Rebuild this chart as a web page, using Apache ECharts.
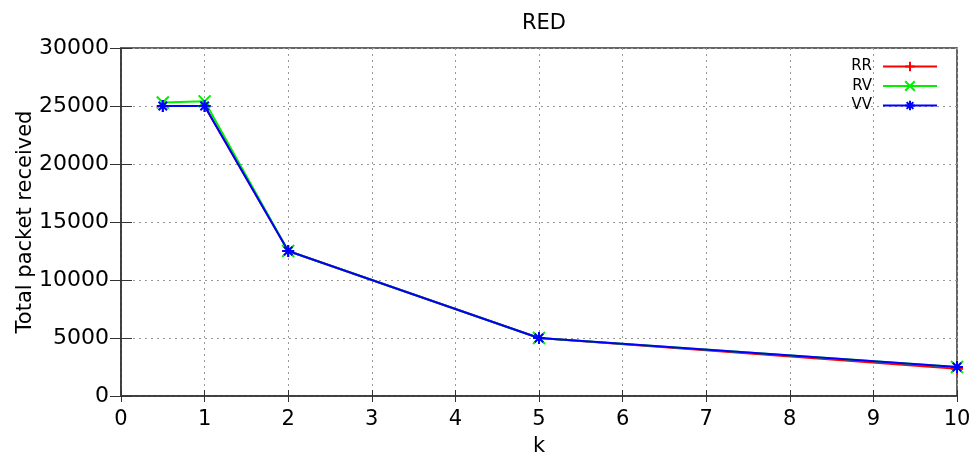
<!DOCTYPE html>
<html>
<head>
<meta charset="utf-8">
<title>RED</title>
<script src="https://cdn.jsdelivr.net/npm/echarts@6/dist/echarts.min.js"></script>
<style>
  html, body { margin: 0; padding: 0; background: #fff; }
  #chart { width: 978px; height: 457px; }
</style>
</head>
<body>
<div id="chart"></div>
<script>
// values
var kValues = [0.5, 1, 2, 5, 10];
var rrValues = [25000, 25000, 12500, 5000, 2350];
var rvValues = [25300, 25400, 12500, 5000, 2500];
var vvValues = [25000, 25000, 12500, 5000, 2500];

var FONT = 'DejaVu Sans';
var frameColor = '#333';

function pairs(ys) {
  return kValues.map(function (k, i) { return [k, ys[i]]; });
}

// gnuplot-ish point types
var plusPath = 'path://M0,5 L10,5 M5,0 L5,10';
var crossPath = 'path://M0,0 L10,10 M10,0 L0,10';
var starPath = 'path://M0,5 L10,5 M5,0 L5,10 M1.5,1.5 L8.5,8.5 M8.5,1.5 L1.5,8.5';

function makeSeries(name, color, symbol, ys) {
  return {
    name: name,
    type: 'line',
    data: pairs(ys),
    symbol: symbol,
    symbolSize: 12,
    lineStyle: { color: color, width: 2 },
    itemStyle: { color: color, borderColor: color, borderWidth: 2 },
    emphasis: { disabled: true },
    animation: false
  };
}

var chart = echarts.init(document.getElementById('chart'));
chart.setOption({
  backgroundColor: '#fff',
  title: {
    text: 'RED',
    left: 539,
    top: 8,
    textAlign: 'center',
    textStyle: { fontFamily: FONT, fontSize: 21, fontWeight: 'normal', color: '#000' }
  },
  legend: {
    orient: 'vertical',
    align: 'right',
    right: 35,
    top: 54,
    itemWidth: 54,
    itemHeight: 12,
    itemGap: 4.5,
    textStyle: { fontFamily: FONT, fontSize: 15, color: '#000', padding: [0, 6, 0, 0] },
    data: ['RR', 'RV', 'VV']
  },
  grid: {
    left: 121, right: 21, top: 48, bottom: 61,
    outerBoundsMode: 'none',
    show: true, borderColor: frameColor, borderWidth: 1.5
  },
  xAxis: [{
    type: 'value',
    min: 0, max: 10, interval: 1,
    name: 'k',
    nameLocation: 'middle',
    nameGap: 40,
    nameMoveOverlap: false,
    nameTextStyle: { fontFamily: FONT, fontSize: 21, color: '#000' },
    axisLine: { lineStyle: { color: frameColor, width: 1.5 } },
    axisTick: { inside: true, length: 6, lineStyle: { color: frameColor } },
    axisLabel: { fontFamily: FONT, fontSize: 21, color: '#000', margin: 13 },
    splitLine: { show: true, lineStyle: { color: '#999', type: [2, 4], width: 1 } }
  }, {
    type: 'value', position: 'top',
    min: 0, max: 10, interval: 1,
    axisLine: { show: false },
    axisTick: { inside: true, length: 6, lineStyle: { color: frameColor } },
    axisLabel: { show: false },
    splitLine: { show: false }
  }],
  yAxis: [{
    type: 'value',
    min: 0, max: 30000, interval: 5000,
    name: 'Total packet received',
    nameLocation: 'middle',
    nameGap: 85,
    nameMoveOverlap: false,
    nameTextStyle: { fontFamily: FONT, fontSize: 21, color: '#000' },
    axisLine: { show: true, lineStyle: { color: frameColor, width: 1.5 } },
    axisTick: { show: true, inside: true, length: 11, lineStyle: { color: frameColor } },
    axisLabel: { fontFamily: FONT, fontSize: 22, color: '#000', margin: 12, formatter: function (v) { return String(v); } },
    splitLine: { show: true, lineStyle: { color: '#999', type: [2, 4], width: 1 } }
  }, {
    type: 'value', position: 'right',
    min: 0, max: 30000, interval: 5000,
    axisLine: { show: false },
    axisTick: { show: true, inside: true, length: 11, lineStyle: { color: frameColor } },
    axisLabel: { show: false },
    splitLine: { show: false }
  }],
  series: [
    makeSeries('RR', '#ff0000', plusPath, rrValues),
    makeSeries('RV', '#00ee00', crossPath, rvValues),
    makeSeries('VV', '#0000ff', starPath, vvValues)
  ]
});
</script>
</body>
</html>
